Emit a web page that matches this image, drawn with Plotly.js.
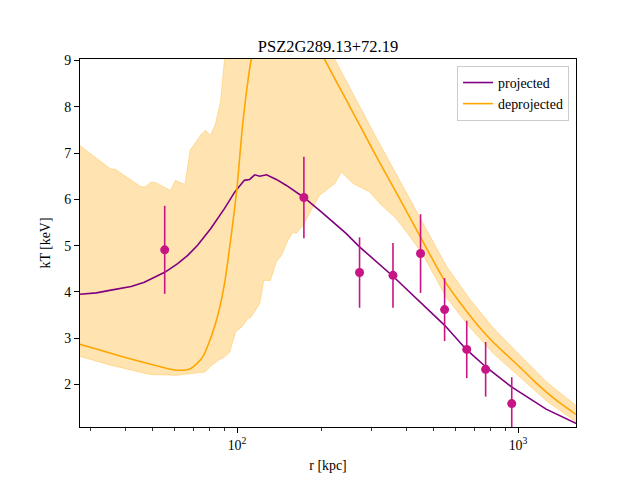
<!DOCTYPE html>
<html>
<head>
<meta charset="utf-8">
<script src="https://cdn.plot.ly/plotly-3.0.1.min.js"></script>
<style>html,body{margin:0;padding:0;background:#fff;}#chart{width:640px;height:480px;}</style>
</head>
<body>
<div id="chart"></div>
<script>
// Upper edge of deprojected uncertainty band (r in kpc, kT in keV)
const bandUpperR = [27.6, 35.4, 36.9, 45.5, 47.2, 49.4, 51.5, 57.9, 60.4, 65.3, 68.1, 74.5, 77.3, 80.4, 83.8, 87.3, 90.2, 93.3, 112, 141, 178, 223, 305, 453, 556, 673, 815, 1014, 1262, 1615];
const bandUpperT = [7.16, 6.66, 6.65, 6.27, 6.27, 6.37, 6.36, 6.19, 6.41, 6.32, 7.06, 7.40, 7.49, 7.38, 7.63, 8.10, 9.0, 9.7, 11.5, 12.0, 10.8, 9.02, 7.46, 5.55, 4.56, 3.85, 3.23, 2.64, 2.06, 1.54];
// Lower edge of deprojected uncertainty band
const bandLowerR = [27.6, 35.5, 48.9, 60.8, 67.6, 76.7, 82.2, 86.1, 90.4, 94.2, 98.9, 103.8, 109.4, 112.2, 120.5, 124.5, 131.5, 138.0, 143.9, 151.7, 158.1, 162.6, 171.8, 186.2, 196.8, 222.8, 235.0, 258.8, 296.5, 322.1, 369.0, 412.1, 459.2, 555.9, 673.0, 814.7, 1014, 1262, 1615];
const bandLowerT = [2.61, 2.42, 2.22, 2.20, 2.23, 2.27, 2.44, 2.53, 2.60, 2.70, 3.14, 3.24, 3.42, 3.46, 3.75, 4.25, 4.25, 4.65, 4.79, 5.11, 5.29, 5.26, 5.44, 5.83, 6.09, 6.34, 6.59, 6.34, 6.16, 5.91, 5.58, 5.20, 4.80, 3.88, 3.24, 2.68, 2.17, 1.65, 1.19];
// Deprojected profile
const deprojR = [27.6, 31.6, 39.8, 50.1, 56.2, 61.7, 67.6, 72.4, 75.9, 79.4, 83.2, 87.1, 90.4, 95.5, 100, 104.7, 112.2, 125.9, 141.3, 158.5, 177.8, 205.1, 251.2, 304.8, 331.1, 380.2, 452.9, 498.9, 555.9, 616.6, 673.0, 741.3, 814.7, 912, 1014, 1122, 1262, 1413, 1615];
const deprojT = [2.87, 2.77, 2.59, 2.43, 2.35, 2.31, 2.33, 2.47, 2.62, 2.90, 3.25, 3.70, 4.20, 5.25, 6.25, 7.6, 9.0, 10.3, 10.7, 10.5, 9.85, 9.02, 8.02, 7.06, 6.66, 6.0, 5.15, 4.68, 4.18, 3.80, 3.50, 3.19, 2.92, 2.64, 2.38, 2.12, 1.84, 1.60, 1.35];
// Projected profile
const projR = [27.6, 31.6, 35.6, 39.8, 42.0, 46.8, 52.2, 55.5, 61.5, 66.8, 72.4, 80.7, 90.2, 94.4, 98.0, 100, 106.2, 110.9, 115.6, 120.5, 127.4, 138.0, 150.0, 173.0, 199.5, 244.9, 273.5, 358.9, 446.7, 548.3, 654.6, 772.7, 948.4, 1259, 1615];
const projT = [3.95, 3.98, 4.04, 4.09, 4.12, 4.21, 4.36, 4.43, 4.61, 4.79, 5.01, 5.37, 5.80, 6.0, 6.15, 6.22, 6.41, 6.43, 6.53, 6.50, 6.53, 6.43, 6.30, 6.04, 5.73, 5.26, 4.97, 4.34, 3.80, 3.28, 2.76, 2.37, 1.95, 1.47, 1.16];
// Measured spectral temperatures
const obsR = [55.3, 173, 273, 359, 450, 548, 657, 767, 950];
const obsT = [4.91, 6.04, 4.42, 4.36, 4.83, 3.62, 2.76, 2.33, 1.59];
const obsErr = [0.95, 0.88, 0.76, 0.70, 0.85, 0.68, 0.62, 0.59, 0.57];
// Tick labels
const yTicks = [2, 3, 4, 5, 6, 7, 8, 9];
const xTickVals = [100, 1000];
const xTickText = ['10<sup>2</sup>', '10<sup>3</sup>'];
const xMinorVals = [30, 40, 50, 60, 70, 80, 90, 200, 300, 400, 500, 600, 700, 800, 900];

const FONT = 'Liberation Serif, Times New Roman, serif';

const traces = [
  {
    x: bandUpperR.concat(bandLowerR.slice().reverse()),
    y: bandUpperT.concat(bandLowerT.slice().reverse()),
    type: 'scatter', mode: 'lines', fill: 'toself',
    fillcolor: 'rgba(255,165,0,0.3)',
    line: {color: 'rgba(255,165,0,0.3)', width: 1},
    showlegend: false, hoverinfo: 'skip'
  },
  {
    x: projR, y: projT, type: 'scatter', mode: 'lines', name: 'projected',
    line: {color: '#800080', width: 1.6}
  },
  {
    x: deprojR, y: deprojT, type: 'scatter', mode: 'lines', name: 'deprojected',
    line: {color: '#FFA500', width: 1.6, shape: 'spline', smoothing: 0.6}
  },
  {
    x: obsR, y: obsT, type: 'scatter', mode: 'markers', showlegend: false,
    marker: {color: '#C71585', size: 9},
    error_y: {type: 'data', array: obsErr, visible: true, color: '#C71585', thickness: 1.6, width: 0},
    cliponaxis: true
  }
];

const layout = {
  width: 640, height: 480,
  margin: {l: 80, r: 64, t: 59, b: 53},
  paper_bgcolor: '#fff', plot_bgcolor: '#fff',
  font: {family: FONT, size: 14, color: '#000'},
  title: {text: 'PSZ2G289.13+72.19', font: {family: FONT, size: 16.5, color: '#000'},
          x: 0.5, xref: 'paper', y: 1, yref: 'paper', yanchor: 'bottom', pad: {b: 7}},
  xaxis: {
    type: 'log', range: [1.4413, 3.2064],
    tickmode: 'array', tickvals: xTickVals, ticktext: xTickText,
    ticks: 'outside', ticklen: 5, tickwidth: 1, tickcolor: '#000',
    minor: {tickmode: 'array', tickvals: xMinorVals, ticks: 'outside', ticklen: 2.8, tickwidth: 0.8, tickcolor: '#000', showgrid: false},
    showline: true, linecolor: '#000', linewidth: 1, mirror: true,
    showgrid: false, zeroline: false,
    tickfont: {family: FONT, size: 13.9},
    title: {text: 'r [kpc]', font: {family: FONT, size: 13.9}, standoff: 8}
  },
  yaxis: {
    range: [1.085, 9.03],
    tickmode: 'array', tickvals: yTicks,
    ticks: 'outside', ticklen: 5, tickwidth: 1, tickcolor: '#000',
    showline: true, linecolor: '#000', linewidth: 1, mirror: true,
    showgrid: false, zeroline: false,
    tickfont: {family: FONT, size: 13.9},
    title: {text: 'kT [keV]', font: {family: FONT, size: 13.9}, standoff: 10}
  },
  legend: {
    x: 0.986, xanchor: 'right', y: 0.981, yanchor: 'top',
    bgcolor: 'rgba(255,255,255,0.8)', bordercolor: '#cccccc', borderwidth: 1,
    font: {family: FONT, size: 13.9}, itemwidth: 30, tracegroupgap: 0
  },
  showlegend: true
};

Plotly.newPlot('chart', traces, layout, {staticPlot: true, displayModeBar: false});
</script>
</body>
</html>
